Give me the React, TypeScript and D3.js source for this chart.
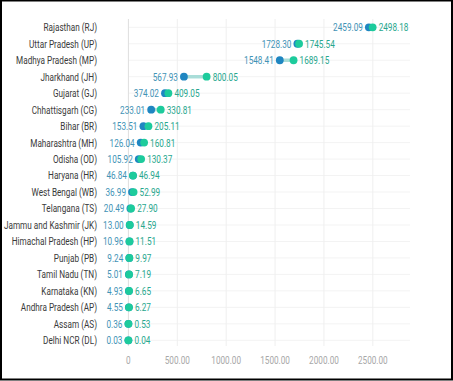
import { scaleLinear, scalePoint } from 'd3';

const states = [
  'Rajasthan (RJ)',
  'Uttar Pradesh (UP)',
  'Madhya Pradesh (MP)',
  'Jharkhand (JH)',
  'Gujarat (GJ)',
  'Chhattisgarh (CG)',
  'Bihar (BR)',
  'Maharashtra (MH)',
  'Odisha (OD)',
  'Haryana (HR)',
  'West Bengal (WB)',
  'Telangana (TS)',
  'Jammu and Kashmir (JK)',
  'Himachal Pradesh (HP)',
  'Punjab (PB)',
  'Tamil Nadu (TN)',
  'Karnataka (KN)',
  'Andhra Pradesh (AP)',
  'Assam (AS)',
  'Delhi NCR (DL)',
];

const startValues = [
  2459.09, 1728.3, 1548.41, 567.93, 374.02, 233.01, 153.51, 126.04, 105.92, 46.84,
  36.99, 20.49, 13.0, 10.96, 9.24, 5.01, 4.93, 4.55, 0.36, 0.03,
];

const endValues = [
  2498.18, 1745.54, 1689.15, 800.05, 409.05, 330.81, 205.11, 160.81, 130.37, 46.94,
  52.99, 27.9, 14.59, 11.51, 9.97, 7.19, 6.65, 6.27, 0.53, 0.04,
];

const xTicks = [0, 500, 1000, 1500, 2000, 2500];

const WIDTH = 453;
const HEIGHT = 381;
const FONT = 'Roboto, "Noto Sans", sans-serif';
const SQUEEZE = 0.78;

const xScale = scaleLinear().domain([0, 2880]).range([128.4, 410]);
const yScale = scalePoint<string>().domain(states).range([27.3, 340.3]);

function fmt(v: number) {
  return v === 0 ? '0' : v.toFixed(2);
}

function Label({
  x,
  y,
  anchor,
  fill,
  size = 10.5,
  children,
}: {
  x: number;
  y: number;
  anchor: 'start' | 'middle' | 'end';
  fill: string;
  size?: number;
  children: string;
}) {
  return (
    <text
      transform={`translate(${x} ${y}) scale(${SQUEEZE} 1)`}
      textAnchor={anchor}
      dominantBaseline="central"
      fill={fill}
      fontSize={size}
      fontFamily={FONT}
    >
      {children}
    </text>
  );
}

export default function App() {
  const [x0, x1] = xScale.range();
  return (
    <div style={{ position: 'absolute', left: 0, top: 0 }}>
      <svg width={WIDTH} height={HEIGHT} style={{ display: 'block', background: '#fff' }}>
        {/* frame */}
        <rect x={1} y={0.5} width={WIDTH - 2} height={HEIGHT - 2} fill="none" stroke="#000" strokeWidth={2} />

        {/* row grid */}
        {states.map((s) => (
          <line key={`h-${s}`} x1={x0} x2={x1} y1={yScale(s)} y2={yScale(s)} stroke="#f3f3f3" />
        ))}

        {/* column grid */}
        {xTicks.map((t) => (
          <line
            key={`v-${t}`}
            x1={xScale(t)}
            x2={xScale(t)}
            y1={19}
            y2={346}
            stroke={t === 0 ? '#dedede' : '#efefef'}
          />
        ))}

        {xTicks.map((t) => (
          <Label key={`t-${t}`} x={xScale(t)} y={360} anchor="middle" fill="#a8a8a8" size={10.5}>
            {fmt(t)}
          </Label>
        ))}

        {states.map((s, i) => {
          const y = yScale(s) ?? 0;
          const a = xScale(startValues[i]);
          const b = xScale(endValues[i]);
          return (
            <g key={s}>
              <Label x={97} y={y} anchor="end" fill="#3a3a3a">
                {s}
              </Label>
              <line x1={a} x2={b} y1={y} y2={y} stroke="#a9ddd8" strokeWidth={3.5} />
              <circle cx={a} cy={y} r={3.9} fill="#1f86c1" />
              <circle cx={b} cy={y} r={3.9} fill="#1dcb9c" />
              <Label x={a - 6} y={y} anchor="end" fill="#3f93b6">
                {startValues[i].toFixed(2)}
              </Label>
              <Label x={b + 6} y={y} anchor="start" fill="#27a78e">
                {endValues[i].toFixed(2)}
              </Label>
            </g>
          );
        })}
      </svg>
    </div>
  );
}
